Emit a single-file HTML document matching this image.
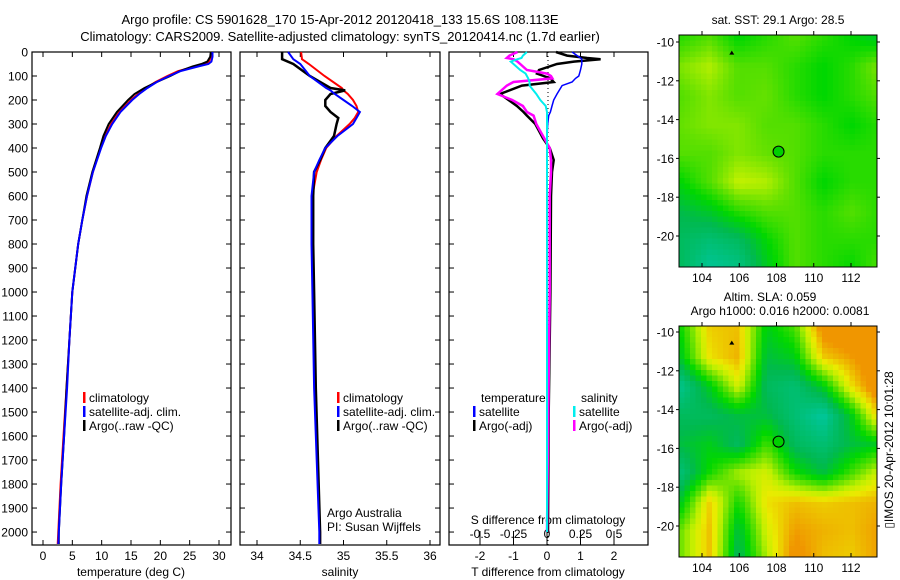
<!DOCTYPE html>
<html><head><meta charset="utf-8">
<style>
body{margin:0;background:#fff;}
svg{display:block;font-family:"Liberation Sans",sans-serif;}
text{font-size:12px;fill:#000;}
</style></head>
<body>
<svg id="fig" width="900" height="580" viewBox="0 0 900 580">
<text x="340" y="24" text-anchor="middle" style="font-size:13px">Argo profile: CS 5901628_170 15-Apr-2012 20120418_133 15.6S 108.113E</text>
<text x="340" y="41" text-anchor="middle" style="font-size:13px">Climatology: CARS2009. Satellite-adjusted climatology: synTS_20120414.nc (1.7d earlier)</text>
<g id="p1"></g>
<g id="p2"></g>
<g id="p3"></g>
<g id="m1"></g>
<g id="m2"></g>
<text transform="translate(893,450) rotate(-90)" text-anchor="middle">▯IMOS 20-Apr-2012 10:01:28</text>
</svg>
<script>
// ---- data ----
const depthT = [0,20,40,50,60,80,100,125,150,175,200,250,300,350,400,500,600,700,800,1000,1200,1400,1600,1800,2000,2050];
const tempClim = [28.7,28.6,28.3,27.6,26.0,23.0,21.2,19.2,17.6,16.2,15.0,13.0,11.6,10.6,9.8,8.5,7.5,6.7,6.0,5.0,4.5,4.0,3.5,3.0,2.6,2.5];
const tempSat  = [28.9,28.9,28.7,28.2,26.5,23.4,21.5,19.4,17.8,16.4,15.2,13.2,11.8,10.7,9.9,8.5,7.5,6.7,6.0,5.0,4.5,4.1,3.6,3.1,2.7,2.6];
const tempArgo = [28.6,28.5,28.0,27.0,25.5,23.3,21.7,19.4,17.3,15.6,14.5,12.6,11.2,10.3,9.7,8.4,7.4,6.7,6.0,5.0,4.5,4.0,3.6,3.1,2.7,2.7];
const depthS = [0,30,50,100,150,160,175,200,225,250,275,300,350,400,450,500,600,800,1000,1400,2000,2050];
const salClim = [34.51,34.52,34.6,34.78,34.98,35.0,35.05,35.11,35.15,35.17,35.13,35.07,34.92,34.8,34.74,34.69,34.64,34.64,34.65,34.67,34.73,34.73];
const salSat  = [34.36,34.42,34.5,34.61,34.8,34.85,34.9,35.0,35.1,35.19,35.15,35.11,34.93,34.79,34.72,34.66,34.63,34.63,34.64,34.66,34.72,34.72];
const salArgo = [34.29,34.29,34.42,34.61,34.85,35.02,34.85,34.79,34.79,34.85,34.94,34.92,34.89,34.79,34.73,34.66,34.65,34.65,34.66,34.68,34.73,34.73];
const depthD = [0,15,25,30,40,50,75,90,100,110,125,140,175,200,225,250,265,300,360,400,450,500,600,1000,1500,2000];
const dTSat  = [0.75,0.9,1.0,1.04,1.04,1.04,1.0,0.97,0.95,0.85,0.75,0.45,0.3,0.2,0.15,0.1,0.05,0.02,0.0,0.0,0.0,0.0,0.0,0.0,0.0,0.0];
const dTArgo = [0.27,0.6,1.2,1.6,0.8,0.3,-0.24,-0.3,-0.1,0.1,0.2,-0.75,-1.4,-1.15,-0.9,-0.7,-0.6,-0.35,-0.12,0.08,0.2,0.15,0.12,0.1,0.05,0.03];
const dSSat  = [-0.15,-0.18,-0.19,-0.22,-0.27,-0.25,-0.2,-0.16,-0.15,-0.14,-0.13,-0.13,-0.08,-0.05,-0.01,0.0,0.0,0.0,0.0,0.0,0.0,0.0,0.0,0.0,0.0,0.0];
const dSArgo = [-0.22,-0.28,-0.3,-0.25,-0.22,-0.2,-0.15,0.0,0.03,0.04,-0.25,-0.3,-0.37,-0.26,-0.18,-0.15,-0.1,-0.08,-0.02,0.02,0.03,0.03,0.02,0.02,0.01,0.0];
const depthTicks = [0,100,200,300,400,500,600,700,800,900,1000,1100,1200,1300,1400,1500,1600,1700,1800,1900,2000];
const tempTicks = [0,5,10,15,20,25,30];
const salTicks = [34,34.5,35,35.5,36];
const dTTicks = [-2,-1,0,1,2];
const dSTicks = [-0.5,-0.25,0,0.25,0.5];
const lonTicks = [104,106,108,110,112];
const latTicks = [-10,-12,-14,-16,-18,-20];
const sstGrid = [
[.55,.6,.5,.55,.6,.55,.5,.45],
[.65,.7,.6,.6,.55,.5,.55,.65],
[.6,.65,.6,.62,.55,.5,.55,.6],
[.62,.65,.65,.6,.6,.55,.5,.55],
[.6,.6,.65,.62,.6,.55,.55,.55],
[.5,.6,.72,.7,.6,.5,.55,.55],
[.4,.45,.55,.6,.6,.55,.6,.55],
[.35,.3,.35,.5,.6,.55,.55,.55],
[.35,.2,.25,.45,.6,.55,.5,.6]];
const slaGrid = [
[.5,.78,.8,.45,.55,.9,.95,.88],
[.45,.75,.82,.4,.45,.78,.85,.95],
[.25,.45,.7,.35,.3,.45,.75,.95],
[.35,.35,.4,.4,.3,.2,.45,.8],
[.4,.45,.35,.55,.35,.3,.4,.45],
[.3,.5,.65,.7,.5,.4,.55,.7],
[.45,.78,.5,.75,.8,.78,.8,.82],
[.6,.8,.4,.7,.85,.82,.8,.85],
[.6,.8,.35,.65,.9,.8,.78,.85]];
const argoLon = 108.11, argoLat = -15.65;

// ---- helpers ----
const NS="http://www.w3.org/2000/svg";
function mk(parent,tag,attrs){const e=document.createElementNS(NS,tag);for(const k in attrs)e.setAttribute(k,attrs[k]);parent.appendChild(e);return e;}
const Y0=52,Y1=545,DMAX=2054;
const yD=d=>Y0+(d/DMAX)*(Y1-Y0);
function lin(d0,d1,r0,r1){return v=>r0+(v-d0)/(d1-d0)*(r1-r0);}
function line(g,xs,ds,sx,color,w,name){
  const pts=xs.map((v,i)=>sx(v).toFixed(1)+","+yD(ds[i]).toFixed(1)).join(" ");
  const p=mk(g,"polyline",{points:pts,fill:"none",stroke:color,"stroke-width":w});
  
  
}
function frame(g,x0,x1,name){
  const r=mk(g,"rect",{x:x0,y:Y0,width:x1-x0,height:Y1-Y0,fill:"none",stroke:"#000","stroke-width":1.2});
  
  
}
function xticks(g,ticks,sx,labelY,fmt,top){
  ticks.forEach(t=>{const x=sx(t);
    mk(g,"line",{x1:x,x2:x,y1:Y1,y2:Y1-5,stroke:"#000"});
    if(top)mk(g,"line",{x1:x,x2:x,y1:Y0,y2:Y0+5,stroke:"#000"});
    const tx=mk(g,"text",{x:x,y:labelY,"text-anchor":"middle"});tx.textContent=fmt?fmt(t):t;
    
    
  });
}
function legend(g,x,y,items){
  items.forEach((it,i)=>{
    mk(g,"rect",{x:x,y:y+i*14-10,width:2.5,height:11,fill:it[1]});
    const t=mk(g,"text",{x:x+6,y:y+i*14});t.textContent=it[0];
    
    
  });
}
function txt(g,x,y,s,anchor,name){const t=mk(g,"text",{x:x,y:y,"text-anchor":anchor||"start"});t.textContent=s;
  
  
  return t;}

// ---- panel 1 temperature ----
const g1=document.getElementById("p1");
const sT=lin(0,30,43,219);
frame(g1,32,231,"temperature-plot-frame");
depthTicks.forEach(d=>{const y=yD(d);mk(g1,"line",{x1:32,x2:37,y1:y,y2:y,stroke:"#000"});mk(g1,"line",{x1:231,x2:226,y1:y,y2:y,stroke:"#000"});
  const t=txt(g1,28,y+4.5,d,"end","y-tick-label");});
xticks(g1,tempTicks,sT,560,null,true);
txt(g1,131,576,"temperature (deg C)","middle","x-axis-title-temperature");
line(g1,tempClim,depthT,sT,"#f00",2,"temp-climatology-line");
line(g1,tempArgo,depthT,sT,"#000",2,"temp-argo-line");
line(g1,tempSat,depthT,sT,"#00f",2,"temp-satellite-line");
legend(g1,83,402,[["climatology","#f00"],["satellite-adj. clim.","#00f"],["Argo(..raw -QC)","#000"]]);

// ---- panel 2 salinity ----
const g2=document.getElementById("p2");
const sS=lin(34,36,257,430);
frame(g2,240,440,"salinity-plot-frame");
depthTicks.forEach(d=>{const y=yD(d);mk(g2,"line",{x1:240,x2:245,y1:y,y2:y,stroke:"#000"});mk(g2,"line",{x1:440,x2:435,y1:y,y2:y,stroke:"#000"});});
xticks(g2,salTicks,sS,560,null,true);
txt(g2,340,576,"salinity","middle","x-axis-title-salinity");
line(g2,salClim,depthS,sS,"#f00",2,"sal-climatology-line");
line(g2,salArgo,depthS,sS,"#000",2.5,"sal-argo-line");
line(g2,salSat,depthS,sS,"#00f",2,"sal-satellite-line");
legend(g2,337,402,[["climatology","#f00"],["satellite-adj. clim.","#00f"],["Argo(..raw -QC)","#000"]]);
txt(g2,327,517,"Argo Australia","start","argo-australia-note");
txt(g2,327,531,"PI: Susan Wijffels","start","pi-note");

// ---- panel 3 differences ----
const g3=document.getElementById("p3");
const sDT=lin(-2,2,480,614);
const sDS=lin(-0.5,0.5,480,614);
frame(g3,449,648,"difference-plot-frame");
depthTicks.forEach(d=>{const y=yD(d);mk(g3,"line",{x1:449,x2:454,y1:y,y2:y,stroke:"#000"});mk(g3,"line",{x1:648,x2:643,y1:y,y2:y,stroke:"#000"});});
mk(g3,"line",{x1:548,x2:548,y1:Y0,y2:Y1,stroke:"#000","stroke-dasharray":"1,3"});
xticks(g3,dTTicks,sDT,560,null,true);
dSTicks.forEach(t=>{const x=sDS(t);mk(g3,"line",{x1:x,x2:x,y1:Y1,y2:Y1-14,stroke:"#000"});
  const tt=txt(g3,x,538,t,"middle","s-diff-tick-label");});
txt(g3,548,524,"S difference from climatology","middle","s-diff-axis-title");
txt(g3,548,576,"T difference from climatology","middle","t-diff-axis-title");
line(g3,dTArgo,depthD,sDT,"#000",2.5,"tdiff-argo-line");
line(g3,dSArgo,depthD,sDS,"#f0f",2.5,"sdiff-argo-line");
line(g3,dTSat,depthD,sDT,"#00f",1.5,"tdiff-satellite-line");
line(g3,dSSat,depthD,sDS,"#0ee",2,"sdiff-satellite-line");
txt(g3,481,402,"temperature","start","legend-temperature-header");
txt(g3,581,402,"salinity","start","legend-salinity-header");
legend(g3,473,416,[["satellite","#00f"],["Argo(-adj)","#000"]]);
legend(g3,573,416,[["satellite","#0ee"],["Argo(-adj)","#f0f"]]);

// ---- maps ----
const stops=[[0,[0,200,170]],[0.3,[0,185,80]],[0.45,[0,215,0]],[0.6,[100,225,0]],[0.72,[190,240,0]],[0.82,[235,235,0]],[1,[240,150,0]]];
function cmap(v){v=Math.max(0,Math.min(1,v));for(let i=1;i<stops.length;i++){if(v<=stops[i][0]){const a=stops[i-1],b=stops[i];const f=(v-a[0])/(b[0]-a[0]);
  return "rgb("+a[1].map((c,k)=>Math.round(c+(b[1][k]-c)*f)).join(",")+")";}}return "rgb(240,150,0)";}
function drawMap(g,grid,x0,y0,x1,y1,latTop,name,shift,contrast){
  const sx=lin(104,112,702,851), sy=lin(-10,-20,latTop,latTop+194);
  const R=grid.length,C=grid[0].length,cs=5.5;
  for(let y=y0;y<y1;y+=cs){for(let x=x0;x<x1;x+=cs){
    const fr=(y-y0)/(y1-y0)*(R-1), fc=(x-x0)/(x1-x0)*(C-1);
    const r=Math.min(R-2,Math.floor(fr)),c=Math.min(C-2,Math.floor(fc)),a=fr-r,b=fc-c;
    const v=grid[r][c]*(1-a)*(1-b)+grid[r][c+1]*(1-a)*b+grid[r+1][c]*a*(1-b)+grid[r+1][c+1]*a*b;
    mk(g,"rect",{x:x,y:y,width:Math.min(cs,x1-x)+0.3,height:Math.min(cs,y1-y)+0.3,fill:cmap(0.55+(v-0.55)*contrast+shift)});
  }}
  const f=mk(g,"rect",{x:x0,y:y0,width:x1-x0,height:y1-y0,fill:"none",stroke:"#000"});
  
  
  lonTicks.forEach(l=>{const x=sx(l);mk(g,"line",{x1:x,x2:x,y1:y0,y2:y0-4,stroke:"#000"});mk(g,"line",{x1:x,x2:x,y1:y1,y2:y1-4,stroke:"#000"});
    txt(g,x,y1+15,l,"middle","lon-tick-label");});
  latTicks.forEach(l=>{const y=sy(l);mk(g,"line",{x1:x0,x2:x0-3,y1:y,y2:y,stroke:"#000"});mk(g,"line",{x1:x1,x2:x1+3,y1:y,y2:y,stroke:"#000"});
    txt(g,x0-5,y+4.5,l,"end","lat-tick-label");});
  const c=mk(g,"circle",{cx:sx(argoLon),cy:sy(argoLat),r:5.5,fill:"#00d000",stroke:"#000","stroke-width":1});
  
  
  mk(g,"path",{d:`M${sx(105.6)-2.5},${sy(-10.55)+2} l2.5,-4 l2.5,4 z`,fill:"#000"});
}
const m1=document.getElementById("m1");
drawMap(m1,sstGrid,679,35,877,267,42,"sst-map",-0.04,1.3);
txt(m1,778,24,"sat. SST: 29.1  Argo: 28.5","middle","sst-map-title");
const m2=document.getElementById("m2");
drawMap(m2,slaGrid,679,326,877,557,332,"sla-map",0,1.45);
txt(m2,770,301,"Altim. SLA: 0.059","middle","sla-map-title");
txt(m2,780,315,"Argo h1000: 0.016 h2000: 0.0081","middle","sla-map-subtitle");
</script>
</body></html>
